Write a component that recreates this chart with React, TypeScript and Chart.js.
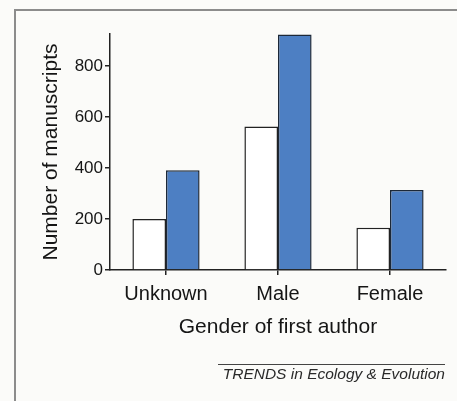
import React, { useEffect, useRef } from "react";
import { Chart, registerables } from "chart.js";

Chart.register(...registerables);

const categories = ["Unknown", "Male", "Female"];
const seriesWhite = [200, 562, 166];
const seriesBlue = [391, 923, 314];
const yTickValues = [0, 200, 400, 600, 800];
const yMax = 925;
const yTitle = "Number of manuscripts";
const xTitle = "Gender of first author";
const footer = "TRENDS in Ecology & Evolution";

const FONT = "'Liberation Sans', Arial, Helvetica, sans-serif";

export default function App() {
  const ref = useRef<HTMLCanvasElement | null>(null);

  useEffect(() => {
    if (!ref.current) return;
    const chart = new Chart(ref.current, {
      type: "bar",
      data: {
        labels: categories,
        datasets: [
          {
            data: seriesWhite,
            backgroundColor: "#ffffff",
            borderColor: "#222222",
            borderWidth: 1.5,
            categoryPercentage: 0.6,
            barPercentage: 1.0,
          },
          {
            data: seriesBlue,
            backgroundColor: "#4d7fc3",
            borderColor: "#1c2838",
            borderWidth: 1.5,
            categoryPercentage: 0.6,
            barPercentage: 1.0,
          },
        ],
      },
      options: {
        animation: false,
        responsive: false,
        maintainAspectRatio: false,
        layout: { padding: { left: 35, top: 34, right: 11, bottom: 57 } },
        plugins: { legend: { display: false }, tooltip: { enabled: false } },
        scales: {
          x: {
            offset: true,
            grid: {
              display: true,
              drawOnChartArea: false,
              drawTicks: true,
              tickLength: 5,
              offset: false,
              color: "#222222",
              lineWidth: 1.5,
            },
            border: { display: true, color: "#222222", width: 1.5 },
            ticks: {
              color: "#151515",
              padding: 7,
              font: { family: FONT, size: 20 },
            },
            title: {
              display: true,
              text: xTitle,
              color: "#151515",
              font: { family: FONT, size: 21 },
              padding: { top: 4, bottom: 4 },
            },
            afterFit: (s: any) => {
              s.height = 74;
            },
          },
          y: {
            min: 0,
            max: yMax,
            afterBuildTicks: (s: any) => {
              s.ticks = yTickValues.map((v) => ({ value: v }));
            },
            grid: {
              display: true,
              drawOnChartArea: false,
              drawTicks: true,
              tickLength: 5,
              color: "#222222",
              lineWidth: 1.5,
            },
            border: { display: true, color: "#222222", width: 1.5 },
            ticks: {
              color: "#151515",
              padding: 2,
              font: { family: FONT, size: 17 },
            },
            title: {
              display: true,
              text: yTitle,
              color: "#151515",
              font: { family: FONT, size: 21 },
              padding: { top: 4, bottom: 4 },
            },
            afterFit: (s: any) => {
              s.width = 75;
            },
          },
        },
      },
    });
    return () => chart.destroy();
  }, []);

  return (
    <div
      style={{
        position: "fixed",
        left: 0,
        top: 0,
        width: 457,
        height: 401,
        background: "#fbfbf9",
        overflow: "hidden",
      }}
    >
      <div
        style={{
          position: "absolute",
          left: 14,
          top: 9,
          width: 600,
          height: 600,
          borderLeft: "2px solid #8c8c8c",
          borderTop: "2px solid #8c8c8c",
        }}
      />
      <canvas
        ref={ref}
        width={457}
        height={401}
        style={{ position: "absolute", left: 0, top: 0, width: 457, height: 401 }}
      />
      <div
        style={{
          position: "absolute",
          left: 218,
          top: 364,
          width: 227,
          borderTop: "1px solid #444",
          textAlign: "right",
          fontFamily: FONT,
          fontStyle: "italic",
          fontSize: 15.5,
          lineHeight: "18px",
          color: "#2a2a2a",
          whiteSpace: "nowrap",
        }}
      >
        {footer}
      </div>
    </div>
  );
}
